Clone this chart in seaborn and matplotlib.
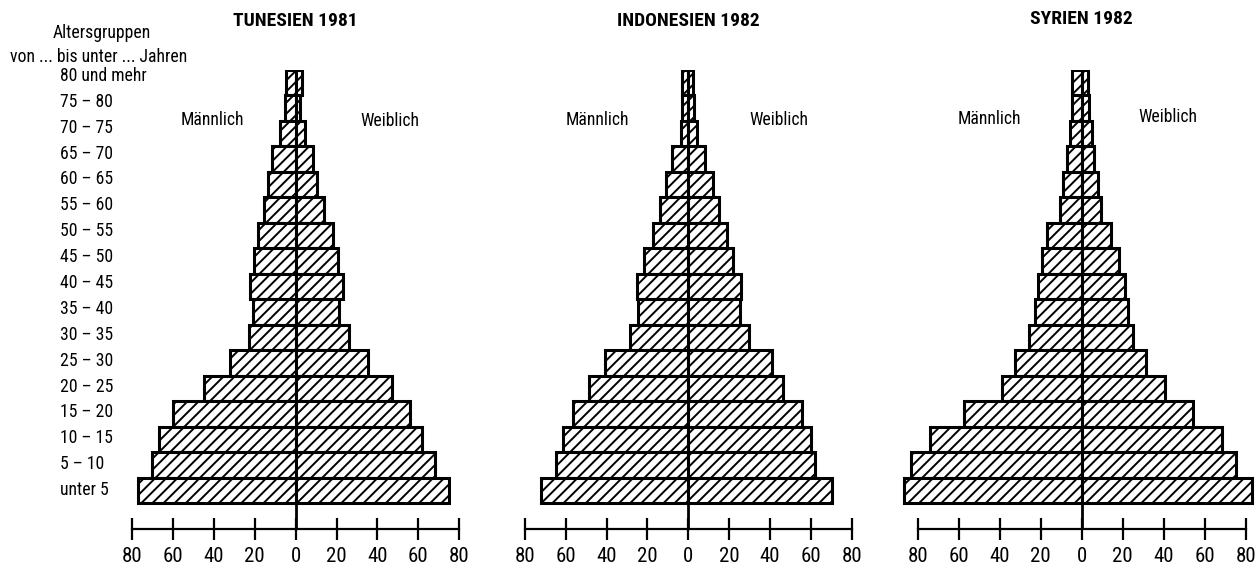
import numpy as np
import pandas as pd
import seaborn as sns
import matplotlib.pyplot as plt

sns.set_style('white')
plt.rcParams['font.family'] = ['Roboto Condensed', 'Fira Sans Condensed',
                               'IBM Plex Sans Condensed', 'DejaVu Sans']
plt.rcParams['text.color'] = 'black'
plt.rcParams['xtick.color'] = 'black'
plt.rcParams['hatch.linewidth'] = 1.4

# age groups, top to bottom
ages = ['80 und mehr', '75 – 80', '70 – 75', '65 – 70', '60 – 65', '55 – 60',
        '50 – 55', '45 – 50', '40 – 45', '35 – 40', '30 – 35', '25 – 30',
        '20 – 25', '15 – 20', '10 – 15', '5 – 10', 'unter 5']

tun_m = [4.5, 5.2, 7.7, 11.5, 13.4, 15.4, 18.6, 20.3, 22.4, 20.8, 22.7, 32, 45, 60, 67, 70.5, 77]
tun_w = [3, 2, 4.5, 8.3, 10.2, 13.8, 18, 20.8, 23, 21.3, 26, 35.5, 47, 56, 62, 68, 75]

ind_m = [3, 3.2, 3.7, 7.8, 10.9, 13.9, 17.2, 21.7, 25.3, 24.5, 28.6, 40.5, 48.7, 56.4, 61.3, 64.5, 71.8]
ind_w = [2.5, 2.8, 4.4, 8.1, 11.9, 15, 19, 21.7, 26, 25.2, 29.6, 41, 46.3, 55.8, 60.2, 61.8, 70.2]

syr_m = [4.9, 4.9, 5.7, 7, 9.2, 10.6, 16.7, 19.5, 21.1, 22.7, 25.5, 32.5, 38.9, 57.3, 73.8, 83.5, 86.5]
syr_w = [3.2, 3.5, 4.9, 6, 8.1, 9.3, 14.2, 18.4, 21.2, 22.8, 25, 31.5, 40.5, 54.4, 68.6, 75.5, 83]

titles = ['TUNESIEN 1981', 'INDONESIEN 1982', 'SYRIEN 1982']
tick_vals = [-80, -60, -40, -20, 0, 20, 40, 60, 80]

W, H = 1260, 571
fig = plt.figure(figsize=(W / 100, H / 100), dpi=100)

# pixel centre of the zero line, px per unit, title y, label y (male, female), label x
layout = [
    (295.7, 2.045, 21.5, 120, 121.5, 212, 390),
    (688.3, 2.045, 21.5, 120, 120, 597.5, 779),
    (1081.7, 2.05, 18.5, 118.5, 116.5, 989, 1167.5),
]
data = [(tun_m, tun_w), (ind_m, ind_w), (syr_m, syr_w)]

top_px, bot_px = 70, 528.5
lim = 88
for (m, w), title, (x0, sc, ty, my, wy, mx, wx) in zip(data, titles, layout):
    left = (x0 - lim * sc) / W
    ax = fig.add_axes([left, 1 - bot_px / H, 2 * lim * sc / W, (bot_px - top_px) / H])
    df = pd.DataFrame({
        'age': ages * 2,
        'value': [-v for v in m] + list(w),
        'sex': ['M'] * len(ages) + ['W'] * len(ages),
    })
    sns.barplot(data=df, x='value', y='age', hue='sex', order=ages, dodge=False,
                orient='h', width=1.0, palette={'M': 'white', 'W': 'white'},
                edgecolor='black', linewidth=2.2, legend=False, ax=ax)
    for p in ax.patches:
        p.set_hatch('///')
    ax.set_xlim(-lim, lim)
    ax.set_ylim(len(ages) - 0.5 + 1, -0.5)
    ax.axvline(0, color='black', lw=2)
    for s in ['top', 'left', 'right']:
        ax.spines[s].set_visible(False)
    ax.spines['bottom'].set_bounds(-80, 80)
    ax.spines['bottom'].set_linewidth(1.6)
    ax.spines['bottom'].set_color('black')
    ax.set_xticks(tick_vals)
    ax.set_xticklabels([str(abs(v)) for v in tick_vals], fontsize=15)
    ax.tick_params(axis='x', bottom=True, direction='inout', length=16, width=1.6,
                   pad=5, colors='black')
    ax.set_yticks([])
    ax.set_xlabel('')
    ax.set_ylabel('')
    ax.patch.set_alpha(0)

    fig.text(x0 / W, 1 - ty / H, title, ha='center', va='center',
             fontsize=14, fontweight='bold')
    fig.text(mx / W, 1 - my / H, 'Männlich', ha='center', va='center', fontsize=12.7)
    fig.text(wx / W, 1 - wy / H, 'Weiblich', ha='center', va='center', fontsize=12.7)

# age group labels at the left
fig.text(102 / W, 1 - 33.5 / H, 'Altersgruppen', ha='center', va='center', fontsize=12.7)
fig.text(10 / W, 1 - 57 / H, 'von ... bis unter ... Jahren', ha='left', va='center', fontsize=12.7)
for i, a in enumerate(ages):
    fig.text(60 / W, 1 - (76 + 25.875 * i) / H, a, ha='left', va='center', fontsize=12.7)

fig.savefig('out.png', dpi=100)
